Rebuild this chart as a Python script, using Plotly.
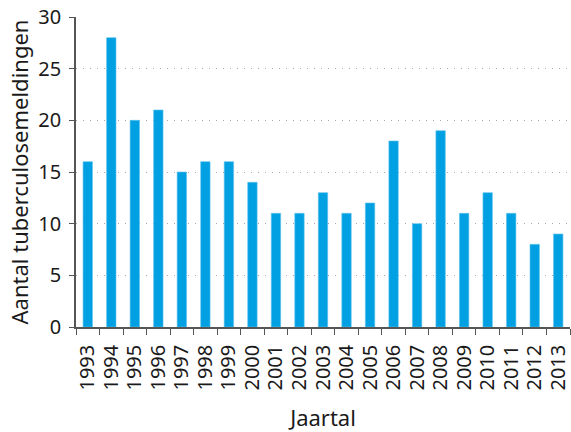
import plotly.graph_objects as go

# Tuberculosis notifications per year
years = ["1993", "1994", "1995", "1996", "1997", "1998", "1999", "2000", "2001", "2002",
         "2003", "2004", "2005", "2006", "2007", "2008", "2009", "2010", "2011", "2012", "2013"]
meldingen = [16, 28, 20, 21, 15, 16, 16, 14, 11, 11, 13, 11, 12, 18, 10, 19, 11, 13, 11, 8, 9]
y_ticks = [0, 5, 10, 15, 20, 25, 30]

bar_color = "#00a0e3"
font_family = "Noto Sans, Open Sans, sans-serif"

fig = go.Figure(
    go.Bar(
        x=years,
        y=meldingen,
        width=0.4,
        marker=dict(color=bar_color, line=dict(color="#5cc3ee", width=0.6)),
    )
)

fig.update_layout(
    width=571,
    height=432,
    margin=dict(l=76, r=1, t=17, b=105),
    paper_bgcolor="white",
    plot_bgcolor="white",
    font=dict(family=font_family, size=20, color="#1a1a1a"),
    showlegend=False,
    bargap=0.6,
)

fig.update_xaxes(
    type="category",
    tickmode="array",
    tickvals=years,
    ticktext=years,
    tickangle=-90,
    tickson="boundaries",
    ticks="outside",
    ticklen=6,
    tickcolor="#555555",
    showline=True,
    linecolor="#555555",
    linewidth=1.5,
    showgrid=False,
    ticklabelstandoff=8,
    tickfont=dict(size=20),
    title=dict(text="Jaartal", font=dict(size=22), standoff=24),
)

fig.update_yaxes(
    range=[0, 30],
    tickvals=y_ticks,
    ticks="outside",
    ticklen=5,
    tickcolor="#555555",
    showline=True,
    linecolor="#555555",
    linewidth=1.5,
    showgrid=True,
    gridcolor="#a8a8a8",
    griddash="1px,6px",
    gridwidth=1.2,
    zeroline=False,
    ticklabelstandoff=4,
    tickfont=dict(size=20),
    title=dict(text="Aantal tuberculosemeldingen", font=dict(size=22), standoff=4),
)

fig.write_html("out.html")
